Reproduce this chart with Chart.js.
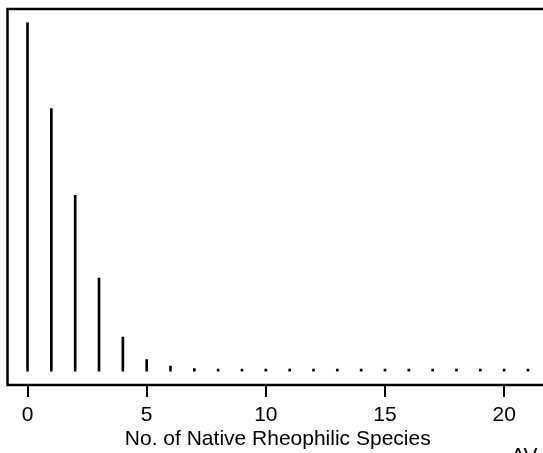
<!DOCTYPE html>
<html>
<head>
<meta charset="utf-8">
<script src="https://cdn.jsdelivr.net/npm/chart.js@4/dist/chart.umd.min.js"></script>
<style>
  html, body { margin: 0; padding: 0; background: #fff; overflow: hidden; }
  canvas { display: block; }
</style>
</head>
<body>
<canvas id="speciesChart" width="560" height="453"></canvas>
<script>
// number of native rheophilic species (x) and relative frequency (y)
const speciesCounts = [0, 1, 2, 3, 4, 5, 6, 7, 8, 9, 10, 11, 12, 13, 14, 15, 16, 17, 18, 19, 20, 21];
const frequencies = [100, 75.4, 50.5, 26.7, 9.8, 3.3, 1.4, 0.7, 0.6, 0.6, 0.6, 0.6, 0.6, 0.6, 0.6, 0.6, 0.6, 0.6, 0.6, 0.6, 0.6, 0.6];
const xTicks = [0, 5, 10, 15, 20];
const xTitle = 'No. of Native Rheophilic Species';
const cornerText = 'AV';

const FONT = "'Liberation Sans', Arial, sans-serif";

const boxPlugin = {
    id: 'box',
    afterDraw(chart) {
        const ctx = chart.ctx;
        const a = chart.chartArea;
        ctx.save();
        ctx.strokeStyle = '#000';
        ctx.lineWidth = 2.5;
        ctx.strokeRect(a.left, a.top, a.right - a.left, a.bottom - a.top);
        ctx.fillStyle = '#000';
        ctx.font = '21px ' + FONT;
        ctx.textBaseline = 'alphabetic';
        ctx.fillText(cornerText, 511, 462);
        ctx.restore();
    }
};

new Chart(document.getElementById('speciesChart'), {
    type: 'bar',
    data: {
        datasets: [{
            data: speciesCounts.map((c, i) => ({ x: c, y: frequencies[i] })),
            backgroundColor: '#000',
            borderWidth: 0,
            barThickness: 2
        }]
    },
    options: {
        responsive: false,
        animation: false,
        layout: { padding: { left: 7.5, top: 9, right: 12, bottom: 0 } },
        plugins: { legend: { display: false }, tooltip: { enabled: false } },
        scales: {
            x: {
                type: 'linear',
                offset: false,
                min: -0.84,
                max: 21.84,
                afterBuildTicks(scale) {
                    scale.ticks = xTicks.map(v => ({ value: v }));
                },
                afterFit(scale) { scale.height = 68; },
                border: { display: false },
                grid: {
                    offset: false,
                    drawOnChartArea: false,
                    drawTicks: true,
                    tickLength: 12,
                    color: '#000',
                    lineWidth: 2
                },
                ticks: {
                    color: '#000',
                    font: { family: FONT, size: 21 },
                    padding: 6,
                    maxRotation: 0,
                    autoSkip: false
                },
                title: {
                    display: true,
                    text: xTitle,
                    color: '#000',
                    font: { family: FONT, size: 21 },
                    padding: { top: 0, bottom: 1 }
                }
            },
            y: {
                display: false,
                min: -4,
                max: 104
            }
        }
    },
    plugins: [boxPlugin]
});
</script>
</body>
</html>
